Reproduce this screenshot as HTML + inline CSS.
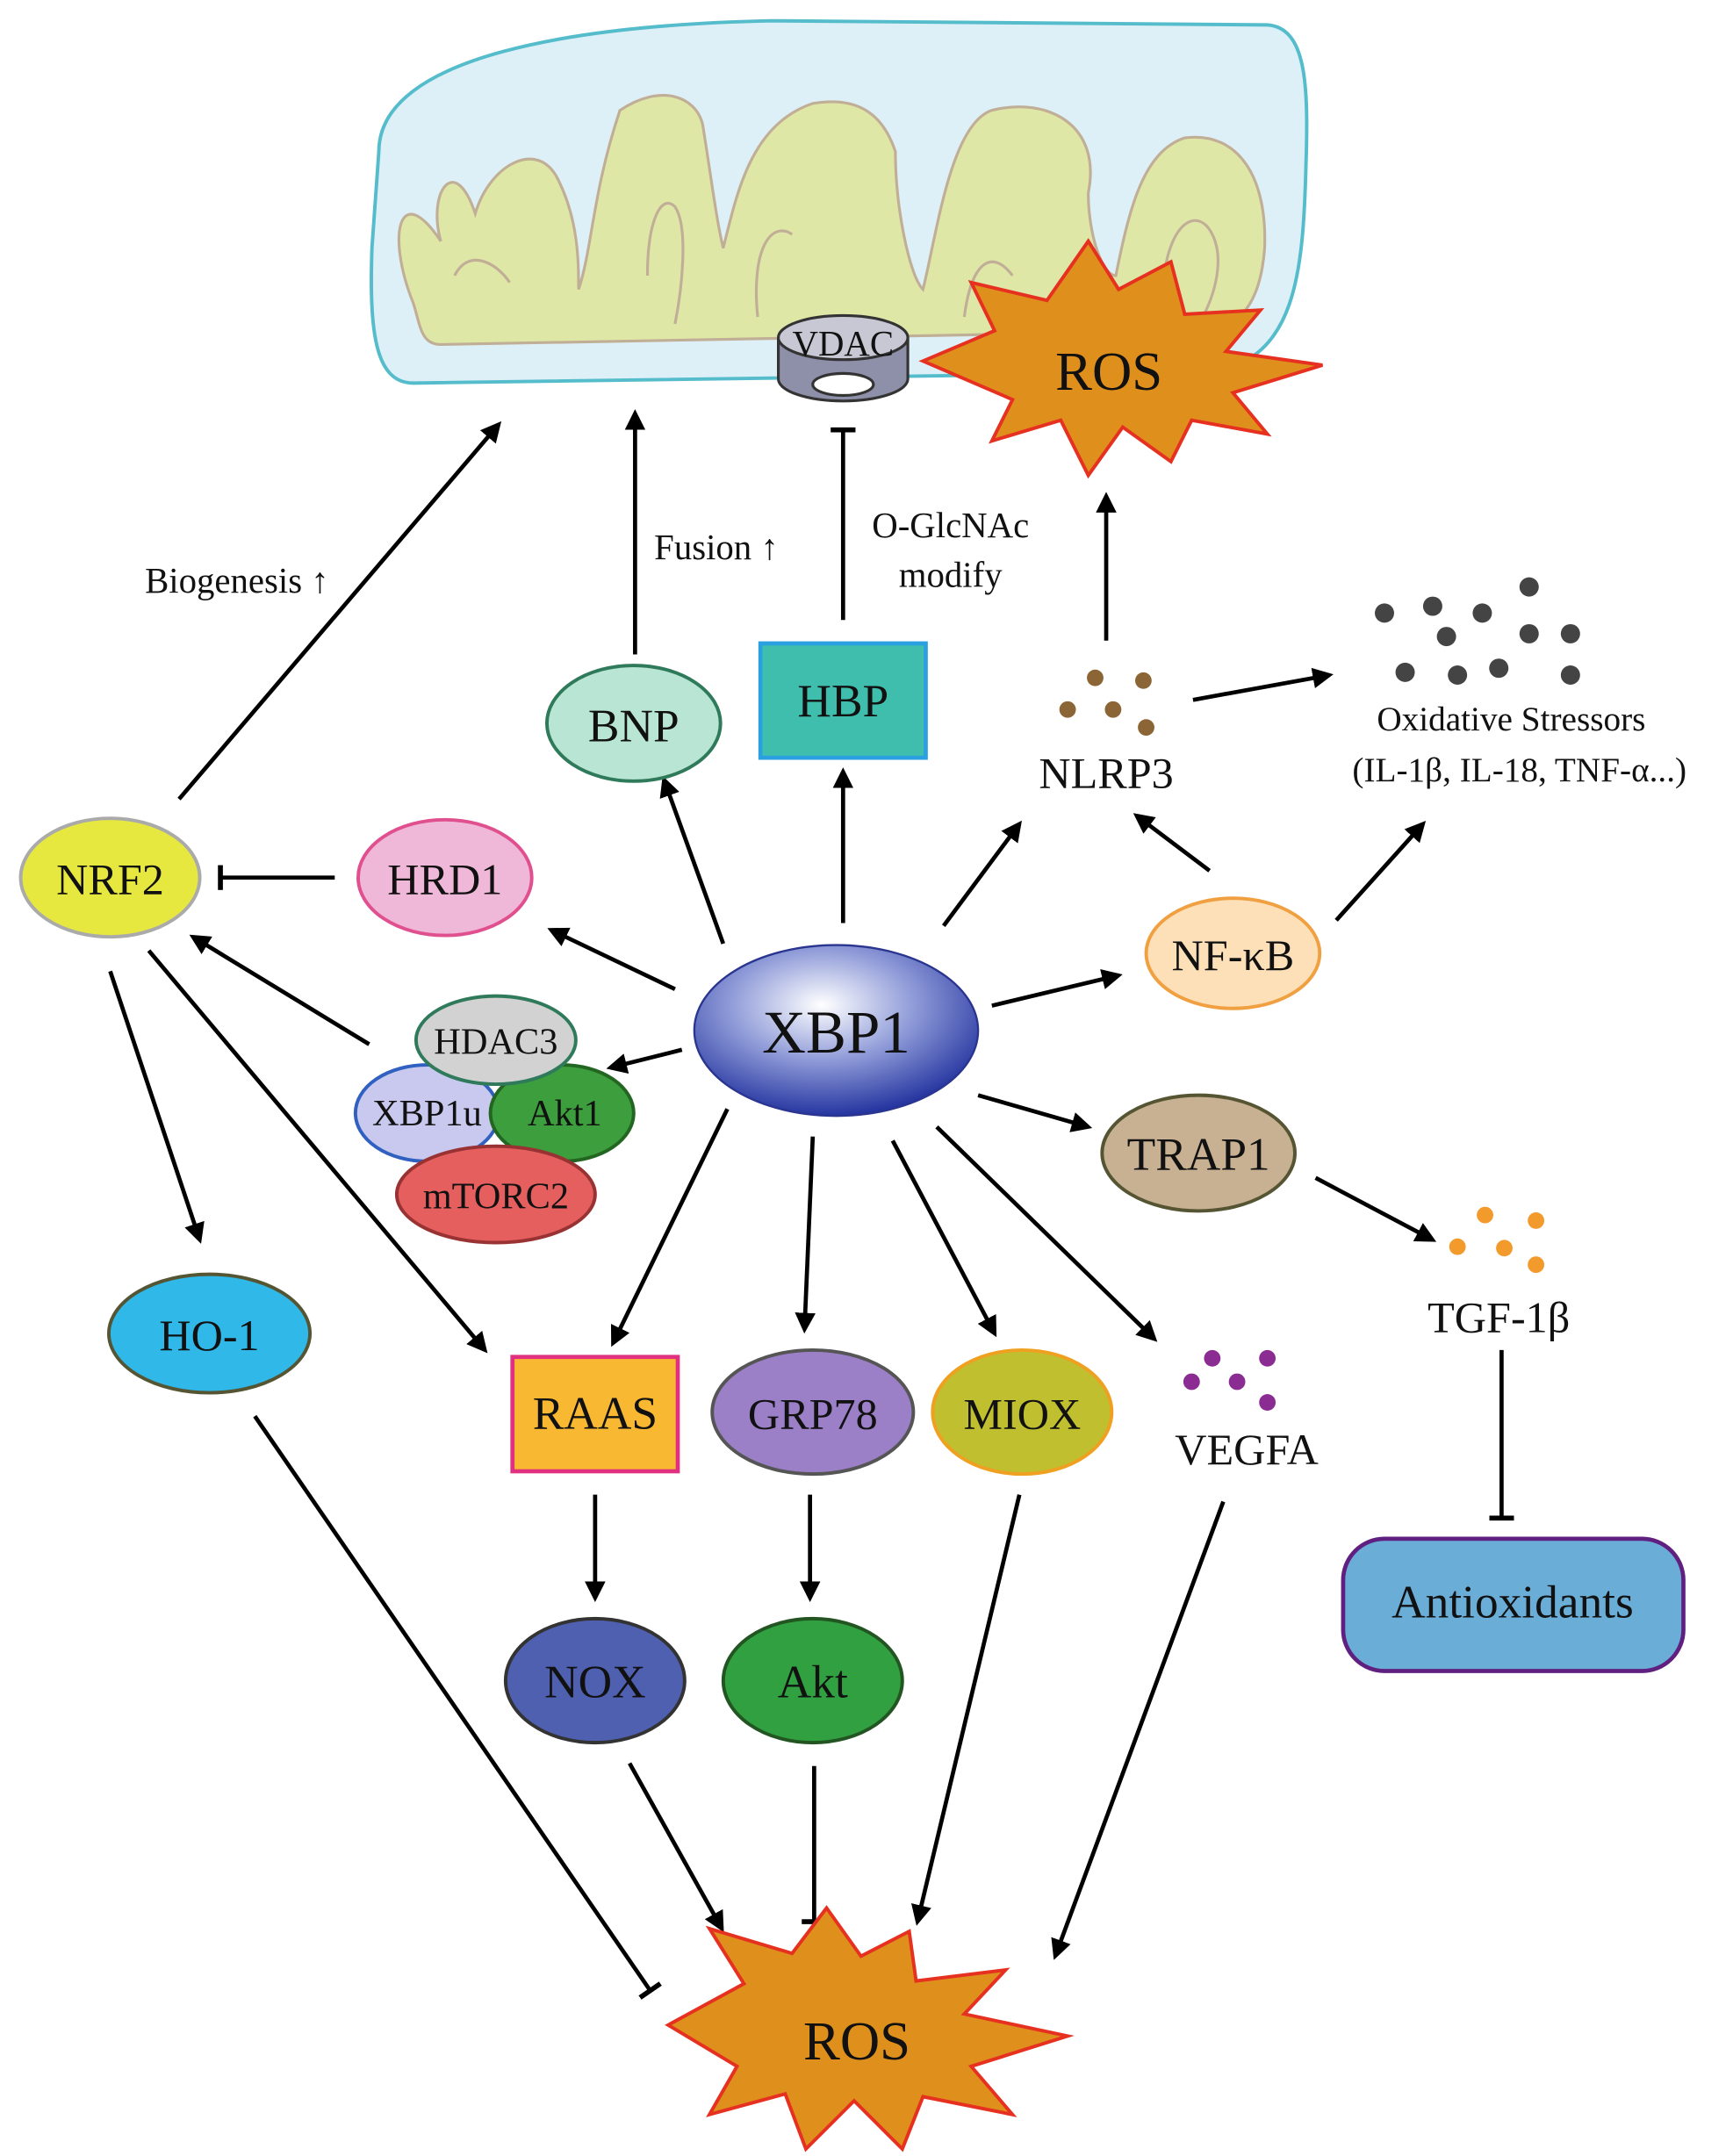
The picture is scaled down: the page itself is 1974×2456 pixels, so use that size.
<!DOCTYPE html>
<html><head><meta charset="utf-8"><style>
html,body{margin:0;padding:0;background:#fff;}
svg{display:block;}
text{font-family:"Liberation Serif",serif;fill:#111;}
</style></head><body>
<svg width="1974" height="2456" viewBox="0 0 1258 1565" xmlns="http://www.w3.org/2000/svg">
<defs>
<marker id="a" viewBox="0 0 10 10" refX="8" refY="5" markerWidth="5" markerHeight="5" orient="auto"><path d="M0,0 L10,5 L0,10 z" fill="#000"/></marker>
<marker id="t" viewBox="0 0 10 10" refX="5" refY="5" markerWidth="6" markerHeight="6" orient="auto"><path d="M5,0 L5,10" stroke="#000" stroke-width="2"/></marker>
<radialGradient id="g" cx="45%" cy="35%" r="65%"><stop offset="0" stop-color="#ffffff"/><stop offset="0.5" stop-color="#8f9bd8"/><stop offset="1" stop-color="#2535a0"/></radialGradient>
</defs>
<!-- mitochondrion -->
<path d="M275,110 C275,40 420,18 560,15 L920,18 C948,20 950,60 948,120 C946,200 940,260 880,270 L300,278 C272,278 268,240 270,180 Z" fill="#def0f7" stroke="#55bccb" stroke-width="2.5"/>
<path d="M300,220 C280,170 290,130 320,175 C310,140 330,110 345,155 C355,120 390,100 405,130 C420,160 420,190 420,210 C430,180 430,140 450,80 C480,60 505,70 510,90 C515,120 520,160 525,180 C535,140 545,90 590,75 C620,70 640,80 650,110 C650,150 660,200 670,210 C680,170 690,90 720,80 C760,70 800,90 790,140 C790,170 800,200 810,200 C820,150 830,110 860,100 C900,95 920,130 918,180 C915,220 900,240 870,240 L320,250 C305,250 305,235 300,220 Z" fill="#dfe7a7" stroke="#c0ae96" stroke-width="2"/>
<path d="M330,200 C340,180 360,190 370,205 M470,200 C470,160 480,140 490,150 C500,165 495,210 490,235 M550,230 C545,180 560,160 575,170 M700,230 C705,190 720,180 735,200 M845,200 C850,160 870,150 880,170 C890,190 880,220 870,235" fill="none" stroke="#c0ae96" stroke-width="2"/>
<!-- VDAC -->
<path d="M565,245 L565,275 A47,16 0 0 0 659,275 L659,245" fill="#8e8fa8" stroke="#333" stroke-width="2"/>
<ellipse cx="612" cy="245" rx="47" ry="16" fill="#c8c8d4" stroke="#333" stroke-width="2"/>
<ellipse cx="612" cy="279" rx="22" ry="8" fill="#fff" stroke="#333" stroke-width="2"/>
<text x="612" y="258" font-size="26" text-anchor="middle">VDAC</text>
<!-- top ROS star -->
<polygon points="670,262 722,240 705,205 760,218 790,175 812,210 850,190 860,228 915,225 890,255 960,265 895,285 920,315 865,305 850,335 815,310 790,345 770,305 720,320 735,290" fill="#de8f1c" stroke="#e63020" stroke-width="2.5"/>
<text x="805" y="283" font-size="40" text-anchor="middle">ROS</text>
<!-- arrows -->
<g stroke="#000" stroke-width="3" fill="none">
<line x1="130" y1="580" x2="362" y2="308" marker-end="url(#a)"/>
<line x1="461" y1="475" x2="461" y2="300" marker-end="url(#a)"/>
<line x1="612" y1="450" x2="612" y2="312" marker-end="url(#t)"/>
<line x1="803" y1="465" x2="803" y2="360" marker-end="url(#a)"/>
<line x1="866" y1="508" x2="965" y2="490" marker-end="url(#a)"/>
<line x1="525" y1="685" x2="482" y2="566" marker-end="url(#a)"/>
<line x1="612" y1="670" x2="612" y2="560" marker-end="url(#a)"/>
<line x1="685" y1="672" x2="740" y2="598" marker-end="url(#a)"/>
<line x1="878" y1="632" x2="825" y2="592" marker-end="url(#a)"/>
<line x1="970" y1="668" x2="1033" y2="598" marker-end="url(#a)"/>
<line x1="243" y1="637" x2="160" y2="637" marker-end="url(#t)"/>
<line x1="490" y1="718" x2="400" y2="675" marker-end="url(#a)"/>
<line x1="268" y1="758" x2="140" y2="680" marker-end="url(#a)"/>
<line x1="495" y1="762" x2="443" y2="775" marker-end="url(#a)"/>
<line x1="720" y1="730" x2="812" y2="708" marker-end="url(#a)"/>
<line x1="710" y1="795" x2="790" y2="818" marker-end="url(#a)"/>
<line x1="955" y1="855" x2="1040" y2="900" marker-end="url(#a)"/>
<line x1="1090" y1="980" x2="1090" y2="1102" marker-end="url(#t)"/>
<line x1="80" y1="705" x2="145" y2="900" marker-end="url(#a)"/>
<line x1="108" y1="690" x2="352" y2="980" marker-end="url(#a)"/>
<line x1="528" y1="805" x2="445" y2="975" marker-end="url(#a)"/>
<line x1="590" y1="825" x2="584" y2="965" marker-end="url(#a)"/>
<line x1="648" y1="828" x2="722" y2="968" marker-end="url(#a)"/>
<line x1="680" y1="818" x2="838" y2="972" marker-end="url(#a)"/>
<line x1="432" y1="1085" x2="432" y2="1160" marker-end="url(#a)"/>
<line x1="588" y1="1085" x2="588" y2="1160" marker-end="url(#a)"/>
<line x1="185" y1="1028" x2="472" y2="1445" marker-end="url(#t)"/>
<line x1="457" y1="1280" x2="524" y2="1400" marker-end="url(#a)"/>
<line x1="591" y1="1282" x2="591" y2="1395" marker-end="url(#t)"/>
<line x1="740" y1="1085" x2="666" y2="1395" marker-end="url(#a)"/>
<line x1="888" y1="1090" x2="766" y2="1420" marker-end="url(#a)"/>
</g>
<text x="172" y="430" font-size="26" text-anchor="middle">Biogenesis ↑</text>
<text x="520" y="406" font-size="26" text-anchor="middle">Fusion ↑</text>
<text x="690" y="390" font-size="26" text-anchor="middle">O-GlcNAc</text>
<text x="690" y="426" font-size="26" text-anchor="middle">modify</text>
<!-- nodes -->
<ellipse cx="460" cy="525" rx="63" ry="42" fill="#b8e5d4" stroke="#2f7a5a" stroke-width="2.5"/>
<text x="460" y="538" font-size="34" text-anchor="middle">BNP</text>
<rect x="552" y="467" width="120" height="83" fill="#3fbdad" stroke="#2aa0e0" stroke-width="3"/>
<text x="612" y="520" font-size="34" text-anchor="middle">HBP</text>
<g fill="#8b6535"><circle cx="795" cy="492" r="6"/><circle cx="830" cy="494" r="6"/><circle cx="775" cy="515" r="6"/><circle cx="808" cy="515" r="6"/><circle cx="832" cy="528" r="6"/></g>
<text x="803" y="572" font-size="32" text-anchor="middle">NLRP3</text>
<g fill="#444"><circle cx="1005" cy="445" r="7"/><circle cx="1040" cy="440" r="7"/><circle cx="1076" cy="445" r="7"/><circle cx="1110" cy="426" r="7"/><circle cx="1050" cy="462" r="7"/><circle cx="1110" cy="460" r="7"/><circle cx="1140" cy="460" r="7"/><circle cx="1020" cy="488" r="7"/><circle cx="1058" cy="490" r="7"/><circle cx="1088" cy="485" r="7"/><circle cx="1140" cy="490" r="7"/></g>
<text x="1097" y="530" font-size="25" text-anchor="middle">Oxidative Stressors</text>
<text x="1103" y="567" font-size="25" text-anchor="middle">(IL-1β, IL-18, TNF-α...)</text>
<ellipse cx="80" cy="637" rx="65" ry="43" fill="#e7e83f" stroke="#aaa" stroke-width="2.5"/>
<text x="80" y="649" font-size="32" text-anchor="middle">NRF2</text>
<ellipse cx="323" cy="637" rx="63" ry="42" fill="#f0b8d8" stroke="#e0508f" stroke-width="2.5"/>
<text x="323" y="649" font-size="32" text-anchor="middle">HRD1</text>
<ellipse cx="895" cy="692" rx="63" ry="40" fill="#fde0b8" stroke="#f0a040" stroke-width="2.5"/>
<text x="895" y="704" font-size="32" text-anchor="middle">NF-κB</text>
<ellipse cx="607" cy="748" rx="103" ry="62" fill="url(#g)" stroke="#2a3590" stroke-width="1.5"/>
<text x="607" y="764" font-size="44" text-anchor="middle">XBP1</text>
<ellipse cx="310" cy="808" rx="52" ry="35" fill="#c9c8ef" stroke="#3060c0" stroke-width="2.5"/>
<ellipse cx="408" cy="808" rx="52" ry="35" fill="#3c9e3c" stroke="#226622" stroke-width="2.5"/>
<ellipse cx="360" cy="755" rx="58" ry="32" fill="#d2d2d2" stroke="#2f7a5a" stroke-width="2.5"/>
<ellipse cx="360" cy="867" rx="72" ry="35" fill="#e65f5f" stroke="#993333" stroke-width="2.5"/>
<text x="360" y="765" font-size="27" text-anchor="middle">HDAC3</text>
<text x="310" y="817" font-size="27" text-anchor="middle">XBP1u</text>
<text x="410" y="817" font-size="27" text-anchor="middle">Akt1</text>
<text x="360" y="877" font-size="27" text-anchor="middle">mTORC2</text>
<ellipse cx="870" cy="837" rx="70" ry="42" fill="#c8b092" stroke="#555533" stroke-width="2.5"/>
<text x="870" y="849" font-size="34" text-anchor="middle">TRAP1</text>
<g fill="#f39a2c"><circle cx="1078" cy="882" r="6"/><circle cx="1115" cy="886" r="6"/><circle cx="1058" cy="905" r="6"/><circle cx="1092" cy="906" r="6"/><circle cx="1115" cy="918" r="6"/></g>
<text x="1088" y="967" font-size="32" text-anchor="middle">TGF-1β</text>
<ellipse cx="152" cy="968" rx="73" ry="43" fill="#30b8e8" stroke="#555533" stroke-width="2.5"/>
<text x="152" y="980" font-size="32" text-anchor="middle">HO-1</text>
<rect x="372" y="985" width="120" height="83" fill="#f8b832" stroke="#e03080" stroke-width="3"/>
<text x="432" y="1037" font-size="34" text-anchor="middle">RAAS</text>
<ellipse cx="590" cy="1025" rx="73" ry="45" fill="#9b80c8" stroke="#555" stroke-width="2.5"/>
<text x="590" y="1037" font-size="32" text-anchor="middle">GRP78</text>
<ellipse cx="742" cy="1025" rx="65" ry="45" fill="#bfbf30" stroke="#f0a020" stroke-width="2.5"/>
<text x="742" y="1037" font-size="32" text-anchor="middle">MIOX</text>
<g fill="#8a2c92"><circle cx="880" cy="986" r="6"/><circle cx="920" cy="986" r="6"/><circle cx="865" cy="1003" r="6"/><circle cx="898" cy="1003" r="6"/><circle cx="920" cy="1018" r="6"/></g>
<text x="905" y="1063" font-size="32" text-anchor="middle">VEGFA</text>
<rect x="975" y="1117" width="247" height="96" rx="30" fill="#6aaed8" stroke="#602080" stroke-width="3"/>
<text x="1098" y="1174" font-size="34" text-anchor="middle">Antioxidants</text>
<ellipse cx="432" cy="1220" rx="65" ry="45" fill="#5060b0" stroke="#333" stroke-width="2.5"/>
<text x="432" y="1232" font-size="34" text-anchor="middle">NOX</text>
<ellipse cx="590" cy="1220" rx="65" ry="45" fill="#30a040" stroke="#225522" stroke-width="2.5"/>
<text x="590" y="1232" font-size="34" text-anchor="middle">Akt</text>
<!-- bottom ROS -->
<polygon points="485,1470 540,1440 515,1400 575,1418 600,1385 625,1420 660,1402 665,1438 730,1430 700,1462 775,1478 705,1500 735,1535 670,1522 655,1560 620,1525 585,1560 570,1520 515,1535 535,1500" fill="#de8f1c" stroke="#e63020" stroke-width="2.5"/>
<text x="622" y="1495" font-size="40" text-anchor="middle">ROS</text>
</svg>
</body></html>
